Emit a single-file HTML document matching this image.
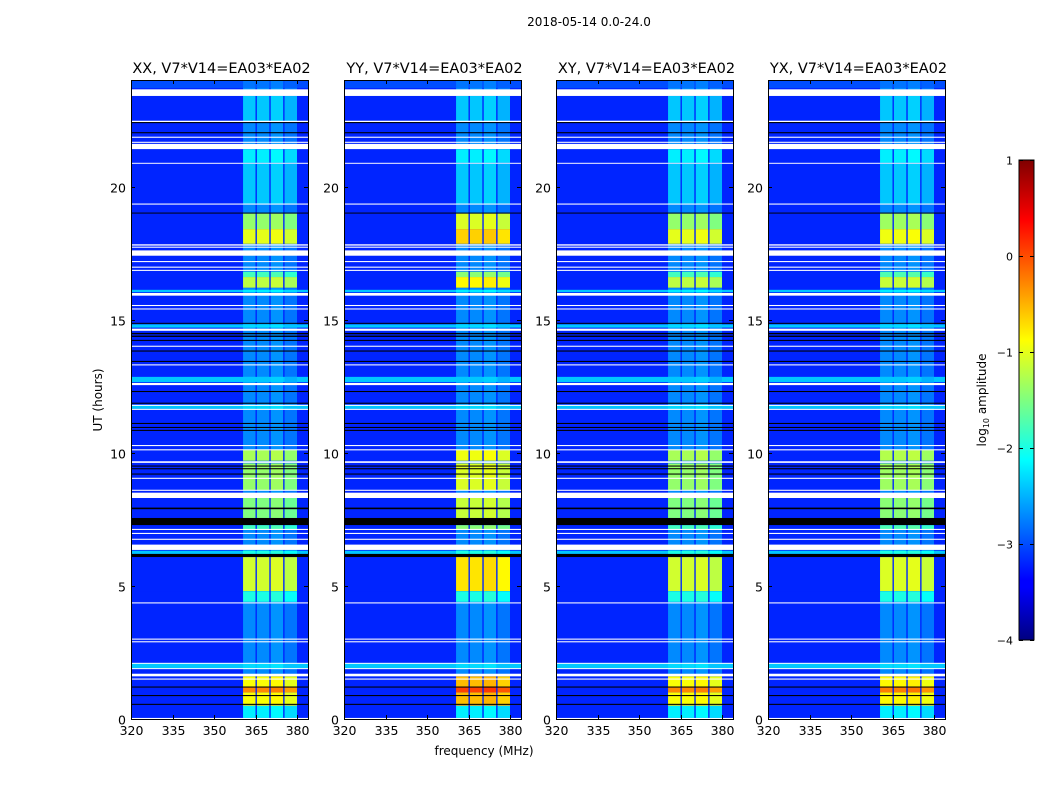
<!DOCTYPE html>
<html><head><meta charset="utf-8">
<style>
html,body{margin:0;padding:0;background:#fff;}
svg{display:block;font-family:"DejaVu Sans","Liberation Sans",sans-serif;}
</style></head>
<body>
<svg id="fig" width="1050" height="800" viewBox="0 0 1050 800" xmlns="http://www.w3.org/2000/svg">
<defs>
<linearGradient id="jet" x1="0" y1="1" x2="0" y2="0">
<stop offset="0" stop-color="#000080"/><stop offset="0.11" stop-color="#0000ff"/>
<stop offset="0.125" stop-color="#0000ff"/><stop offset="0.375" stop-color="#00ffff"/>
<stop offset="0.625" stop-color="#ffff00"/><stop offset="0.875" stop-color="#ff0000"/>
<stop offset="1" stop-color="#800000"/>
</linearGradient>
</defs>
<text x="589" y="26" font-size="12" text-anchor="middle">2018-05-14 0.0-24.0</text>
<text x="484" y="755" font-size="12" text-anchor="middle">frequency (MHz)</text>
<text transform="translate(102,400) rotate(-90)" font-size="12" text-anchor="middle">UT (hours)</text>
<g id="panels"></g>
<g id="cbar"></g>
<text transform="translate(986,400) rotate(-90)" font-size="12" text-anchor="middle">log<tspan font-size="8" dy="3">10</tspan><tspan dy="-3"> amplitude</tspan></text>
</svg>
<script>
const panelTitles = ["XX, V7*V14=EA03*EA02","YY, V7*V14=EA03*EA02","XY, V7*V14=EA03*EA02","YX, V7*V14=EA03*EA02"];
const panelGain = [0, 0.35, 0, 0.05];
const xTicks = [320,335,350,365,380];
const yTicks = [0,5,10,15,20];
const cbTicks = [1,0,-1,-2,-3,-4];
const spwStart = [360.5,365.5,370.5,375.5];
const spwEnd = [365,370,375,380];
const spwOffset = [0,0,0.05,-0.1];
const baseBg = -3.2, baseSpw = -2.7;
// [startHour, endHour, background value, spw value]; null = flagged (white), -9 = zero (black)
const segStart = [23.7,23.4,22.45,22.42,22.38,22.0,21.83,21.64,21.4,20.89,20.85,19.36,19.32,18.98,17.85,17.85,17.78,17.7,17.4,17.16,16.95,16.83,16.2,16.6,16.03,15.9,15.51,15.38,14.85,14.7,14.58,14.45,14.35,14.2,13.98,13.8,13.41,13.28,12.65,12.54,12.28,11.84,11.65,11.76,11.61,11.08,10.93,10.82,10.25,9.7,10.09,9.62,8.6,9.48,9.38,9.18,9.02,8.57,8.3,7.55,7.88,7.28,7.1,7.1,6.95,6.73,6.35,6.2,6.08,4.8,4.4,4.34,2.98,2.88,1.9,2.08,1.88,1.6,0.04,0.5,1.48,1.0,1.18,0.86,0.53,0.0];
const segEnd   = [24,23.65,23.4,22.47,22.42,22.04,21.87,21.68,21.6,21.4,20.89,20.85,19.36,19.02,18.98,18.4,17.83,17.74,17.6,17.2,16.99,16.87,16.6,16.8,16.12,16.0,15.55,15.42,14.88,14.82,14.66,14.5,14.4,14.24,14.02,13.84,13.45,13.32,12.85,12.62,12.32,11.88,11.8,11.8,11.65,11.12,10.97,10.86,10.29,10.1,10.13,9.68,9.6,9.52,9.42,9.22,9.06,8.61,8.5,8.3,7.94,7.55,7.28,7.14,6.99,6.77,6.55,6.32,6.2,6.08,4.8,4.38,3.02,2.92,2.1,2.11,1.91,1.7,0.5,1.6,1.52,1.2,1.22,0.9,0.57,0.04];
const segBg    = [-3.0,null,-3.2,null,-9,-9,null,null,null,-3.2,null,-3.2,null,-9,-3.2,-3.2,null,null,null,null,null,null,-3.2,-3.2,-2.4,null,null,null,-9,-2.4,null,-9,-9,-9,null,-9,-9,null,-2.4,null,-9,-9,-2.4,null,null,-9,-9,-9,null,-3.2,null,null,-3.2,-9,-9,-9,null,null,null,-3.2,-9,-9,-3.2,null,null,null,null,-2.4,-9,-3.2,-3.2,null,null,null,-2.4,null,null,null,-3.2,-3.2,null,-3.2,-9,-9,-9,null];
const segSpw   = [-2.8,null,-2.4,null,-9,-9,null,null,null,-2.2,null,-2.4,null,-9,-1.4,-1.0,null,null,null,null,null,null,-1.2,-1.8,-2.2,null,null,null,-9,-2.3,null,-9,-9,-9,null,-9,-9,null,-2.4,null,-9,-9,-2.3,null,null,-9,-9,-9,null,-1.3,null,null,-1.4,-9,-9,-9,null,null,null,-1.5,-9,-9,-1.8,null,null,null,null,-2.0,-9,-1.1,-2.0,null,null,null,-2.3,null,null,null,-2.2,-0.9,null,-0.3,-9,-9,-9,null];

const NS="http://www.w3.org/2000/svg";
const panelLeft=[131,344,556,768], pTop=80, pBot=719, pW=177;
const fMin=320, fMax=320+pW*15/41.5, hMax=24;
function jet(v){
  if(v===null) return "#ffffff";
  if(v<=-8) return "#000000";
  let t=Math.max(0,Math.min(1,(v+4)/5));
  const c=x=>Math.round(255*Math.max(0,Math.min(1,x)));
  return `rgb(${c(1.5-Math.abs(4*t-3))},${c(1.5-Math.abs(4*t-2))},${c(1.5-Math.abs(4*t-1))})`;
}
function mk(tag,attrs,parent){const e=document.createElementNS(NS,tag);for(const k in attrs)e.setAttribute(k,attrs[k]);parent.appendChild(e);return e;}
const root=document.getElementById('panels');
panelTitles.forEach((title,p)=>{
  const x0=panelLeft[p];
  const xs=f=>x0+(f-fMin)/(fMax-fMin)*pW;
  const ys=h=>pBot-h/hMax*(pBot-pTop);
  const g=mk('g',{},root);
  
  
  const adj=v=>(v===null||v<=-8)?v:(v>-2?v+panelGain[p]:v);
  const b=mk('rect',{x:xs(fMin),y:ys(hMax),width:xs(fMax)-xs(fMin),height:ys(0)-ys(hMax),fill:jet(baseBg)},g);
  
  
  for(let s=0;s<4;s++){
    const r=mk('rect',{x:xs(spwStart[s]),y:ys(hMax),width:xs(spwEnd[s])-xs(spwStart[s]),height:ys(0)-ys(hMax),fill:jet(baseSpw+spwOffset[s])},g);
    
    
  }
  for(let i=0;i<segStart.length;i++){
    const y1=ys(segEnd[i]), y2=ys(segStart[i]), h=Math.max(1,y2-y1);
    const r=mk('rect',{x:xs(fMin),y:y1,width:xs(fMax)-xs(fMin),height:h,fill:jet(segBg[i])},g);
    
    
    if(segBg[i]!==null && segBg[i]>-8){
      for(let s=0;s<4;s++){
        const v=adj(segSpw[i]); const vv=(v===null||v<=-8)?v:v+spwOffset[s];
        const c=mk('rect',{x:xs(spwStart[s]),y:y1,width:xs(spwEnd[s])-xs(spwStart[s]),height:h,fill:jet(vv)},g);
        
        
      }
    }
  }
  const fr=mk('rect',{x:x0+0.5,y:pTop+0.5,width:pW,height:pBot-pTop,fill:'none',stroke:'#000','stroke-width':1},g);
  
  
  const t=mk('text',{x:x0+pW/2+2,y:pTop-7,'font-size':14.5,'text-anchor':'middle'},g);
  t.textContent=title;
  
  
  xTicks.forEach(v=>{
    const x=Math.round(xs(v))+0.5;
    mk('line',{x1:x,x2:x,y1:pBot,y2:pBot-4,stroke:'#000'},g);
    mk('line',{x1:x,x2:x,y1:pTop,y2:pTop+4,stroke:'#000'},g);
    const l=mk('text',{x:x,y:pBot+16,'font-size':12.5,'text-anchor':'middle'},g);
    l.textContent=v;
    
    
  });
  yTicks.forEach(v=>{
    const y=Math.round(ys(v))+0.5;
    mk('line',{x1:x0,x2:x0+4,y1:y,y2:y,stroke:'#000'},g);
    mk('line',{x1:x0+pW,x2:x0+pW-4,y1:y,y2:y,stroke:'#000'},g);
    const l=mk('text',{x:x0-5,y:y+5,'font-size':12.5,'text-anchor':'end'},g);
    l.textContent=v;
    
    
  });
});
const cb=document.getElementById('cbar');
const cbx=1019, cbw=15, cbTop=160, cbBot=640;
const cbs=v=>cbBot-(v+4)/5*(cbBot-cbTop);
const cr=mk('rect',{x:cbx,y:cbTop,width:cbw,height:cbBot-cbTop,fill:'url(#jet)',stroke:'#000','stroke-width':1},cb);


cbTicks.forEach(v=>{
  const y=Math.round(cbs(v))+0.5;
  mk('line',{x1:cbx,x2:cbx+4,y1:y,y2:y,stroke:'#000'},cb);
  mk('line',{x1:cbx+cbw,x2:cbx+cbw-4,y1:y,y2:y,stroke:'#000'},cb);
  const l=mk('text',{x:cbx-6,y:y+4,'font-size':11,'text-anchor':'end'},cb);
  l.textContent=(v<0?'\u2212'+(-v):String(v));
  
  
});
</script>
</body></html>
